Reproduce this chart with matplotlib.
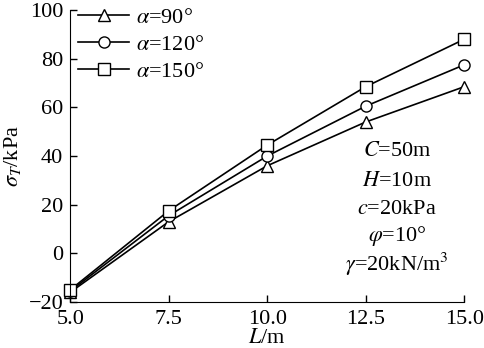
import matplotlib
matplotlib.use("Agg")
import matplotlib.pyplot as plt

L = [5.0, 7.5, 10.0, 12.5, 15.0]
sigma_90 = [-16, 13, 36, 54, 68.5]
sigma_120 = [-15.5, 15.5, 40, 60.5, 77.5]
sigma_150 = [-15, 17.5, 44.5, 68.5, 88]
labels = [r"$\alpha$=90°", r"$\alpha$=120°", r"$\alpha$=150°"]
markers = ["^", "o", "s"]
params = ["$C$=50m", "$H$=10m", "$c$=20kPa", r"$\varphi$=10°", r"$\gamma$=20kN/m$^3$"]

plt.rcParams["font.family"] = ["Liberation Serif", "DejaVu Serif"]
plt.rcParams["mathtext.fontset"] = "stix"
plt.rcParams["font.size"] = 16


def main():
    fig = plt.figure(figsize=(4.84, 3.48), dpi=100)
    ax = fig.add_axes([0.145, 0.132, 0.814, 0.839])

    for ys, lab, m in zip([sigma_90, sigma_120, sigma_150], labels, markers):
        ax.plot(L, ys, color="black", lw=1.2, marker=m, ms=8,
                mfc="white", mec="black", mew=1.0, label=lab, clip_on=False)

    ax.set_xlim(5.0, 15.0)
    ax.set_ylim(-20, 100)
    ax.set_xticks(L)
    ax.set_xticklabels(["5.0", "7.5", "10.0", "12.5", "15.0"])
    ax.set_yticks([-20, 0, 20, 40, 60, 80, 100])
    ax.tick_params(direction="in", length=5, width=1, labelsize=16)
    ax.tick_params(axis="x", pad=5.5)
    ax.tick_params(axis="y", pad=5)
    ax.spines["top"].set_visible(False)
    ax.spines["right"].set_visible(False)

    ax.set_xlabel(r"$L$/m", labelpad=0)
    ax.set_ylabel(r"$\sigma_T$/kPa", labelpad=4)

    ax.legend(loc="upper left", frameon=False, handlelength=2.3,
              handletextpad=0.3, borderaxespad=0.0, borderpad=0.0,
              labelspacing=0.3, bbox_to_anchor=(0.02, 1.01))

    ys_txt = [0.514, 0.414, 0.318, 0.226, 0.13]
    for s, yy in zip(params, ys_txt):
        ax.text(0.83, yy, s, transform=ax.transAxes, ha="center", va="center")

    fig.savefig("out.png", dpi=100)


if __name__ == "__main__":
    main()
